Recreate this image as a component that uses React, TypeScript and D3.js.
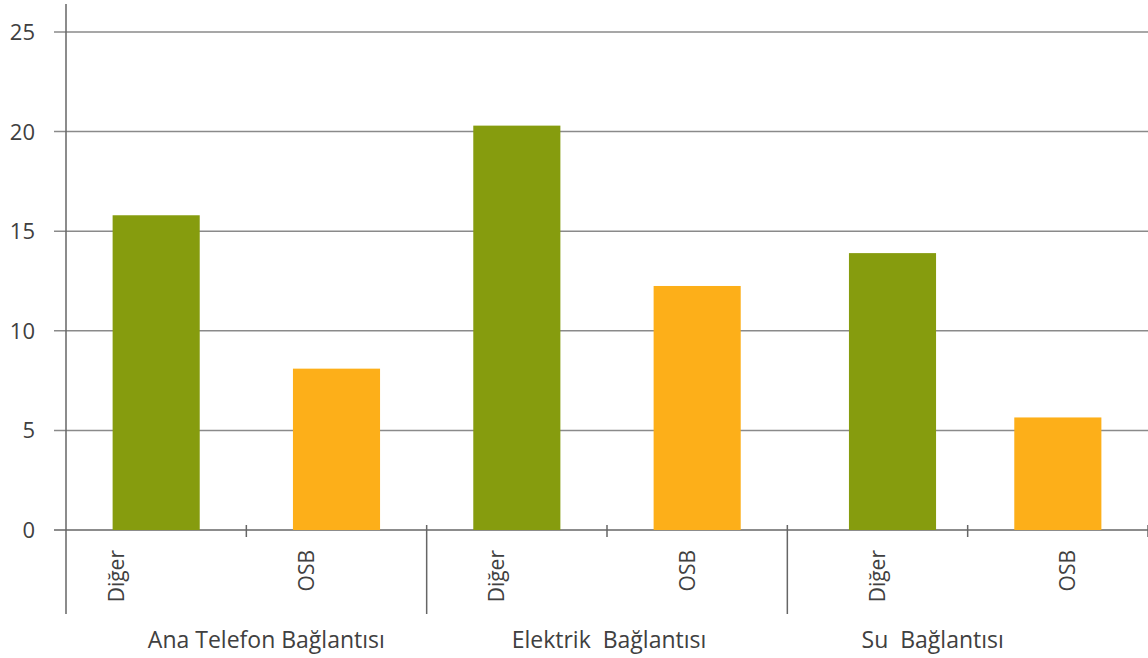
import React from "react";
import * as d3 from "d3";

const groups = ["Ana Telefon Bağlantısı", "Elektrik  Bağlantısı", "Su  Bağlantısı"];
const subCategories = ["Diğer", "OSB"];
const digerValues = [15.8, 20.3, 13.9];
const osbValues = [8.1, 12.25, 5.65];
const yTicks = [0, 5, 10, 15, 20, 25];

const W = 1148;
const H = 658;
const axisX = 66;
const rightX = 1148;
const y0 = 530;
const yTop = 32;
const barColors: Record<string, string> = { "Diğer": "#869C0E", OSB: "#FDAF19" };
const textColor = "#404040";
const font = "'Open Sans', 'Liberation Sans', sans-serif";
const groupLabelDx = [20, 2, -35];
const barDx = [0, 0, 0, 0, 15, 0];

type Bar = { key: string; group: string; sub: string; value: number };

const bars: Bar[] = [];
groups.forEach((g, gi) => {
  subCategories.forEach((s) => {
    bars.push({
      key: `${g}|${s}`,
      group: g,
      sub: s,
      value: s === "Diğer" ? digerValues[gi] : osbValues[gi],
    });
  });
});

export default function App() {
  const x = d3.scaleBand<string>().domain(bars.map((b) => b.key)).range([axisX, rightX]).paddingInner(0).paddingOuter(0);
  const xBar = x.copy().paddingInner(0.517).paddingOuter(0.2585);
  const xLabel = d3.scaleBand<string>().domain(bars.map((b) => b.key)).range([21, 1162]);
  const y = d3.scaleLinear().domain([0, 25]).range([y0, yTop]);
  const bw = x.bandwidth();

  return (
    <svg width={W} height={H} style={{ position: "absolute", left: 0, top: 0, background: "#fff" }}>
      {/* gridlines */}
      {yTicks.map((t) => (
        <line key={t} x1={54} x2={rightX} y1={y(t)} y2={y(t)} stroke={t === 0 ? "#666" : "#8a8a8a"} strokeWidth={1.5} />
      ))}
      {/* y tick labels */}
      {yTicks.map((t) => (
        <text key={"l" + t} x={35} y={y(t) + 8} textAnchor="end" fontSize={22} fontFamily={font} fill={textColor}>
          {t}
        </text>
      ))}
      {/* bars */}
      {bars.map((b, i) => (
        <rect
          key={b.key}
          x={(xBar(b.key) as number) + barDx[i]}
          y={y(b.value)}
          width={xBar.bandwidth()}
          height={y(0) - y(b.value)}
          fill={barColors[b.sub]}
        />
      ))}
      {/* y axis */}
      <line x1={axisX} x2={axisX} y1={4} y2={614} stroke="#666" strokeWidth={1.5} />
      {/* category ticks */}
      {bars.map((b, i) => {
        const xe = (x(b.key) as number) + bw;
        const isGroupEnd = i % 2 === 1 && i < bars.length - 1;
        return (
          <line key={"t" + b.key} x1={xe} x2={xe} y1={525} y2={isGroupEnd ? 614 : 537} stroke="#666" strokeWidth={1.5} />
        );
      })}
      {/* rotated sub labels */}
      {bars.map((b) => {
        const cx = (xLabel(b.key) as number) + xLabel.bandwidth() / 2 + 8;
        return (
          <text
            key={"s" + b.key}
            transform={`translate(${cx},550) rotate(-90)`}
            textAnchor="end"
            fontSize={21}
            fontFamily={font}
            fill={textColor}
          >
            {b.sub}
          </text>
        );
      })}
      {/* group labels */}
      {groups.map((g, gi) => {
        const cx = (x(`${g}|Diğer`) as number) + bw + groupLabelDx[gi];
        return (
          <text key={"g" + g} x={cx} y={648} textAnchor="middle" fontSize={23} fontFamily={font} fill={textColor} style={{ whiteSpace: "pre" }}>
            {g}
          </text>
        );
      })}
    </svg>
  );
}
